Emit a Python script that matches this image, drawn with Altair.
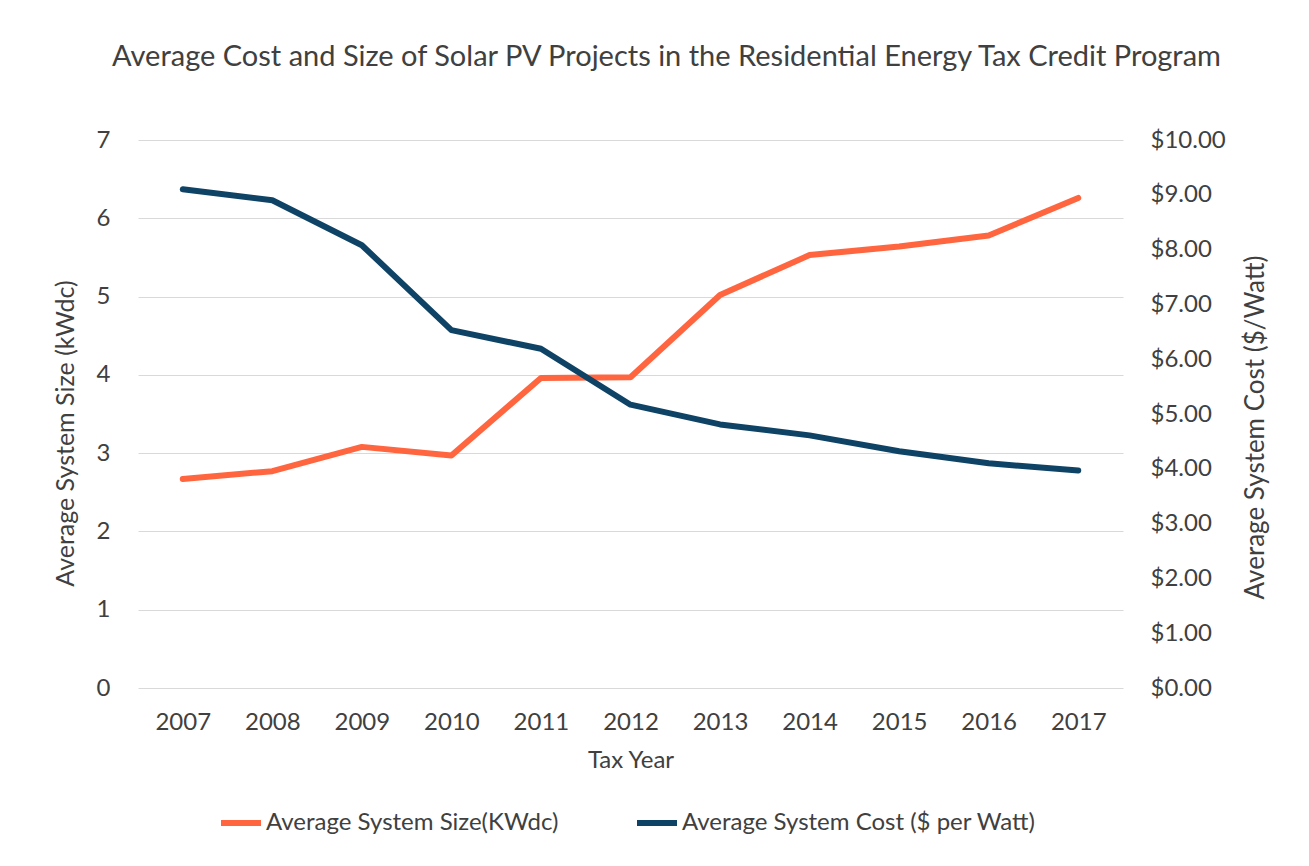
import altair as alt
import pandas as pd

years = ["2007", "2008", "2009", "2010", "2011", "2012", "2013", "2014", "2015", "2016", "2017"]
size_kwdc = [2.67, 2.77, 3.08, 2.97, 3.96, 3.97, 5.02, 5.53, 5.64, 5.78, 6.26]
cost_per_watt = [9.10, 8.90, 8.08, 6.53, 6.19, 5.17, 4.81, 4.61, 4.32, 4.10, 3.97]

size_name = "Average System Size(KWdc)"
cost_name = "Average System Cost ($ per Watt)"

df_size = pd.DataFrame({"year": years, "value": size_kwdc, "series": size_name})
df_cost = pd.DataFrame({"year": years, "value": cost_per_watt, "series": cost_name})

FONT = "Lato"
TXT = "#404040"

color = alt.Color(
    "series:N",
    scale=alt.Scale(domain=[size_name, cost_name], range=["#FF6640", "#0E4366"]),
    legend=alt.Legend(
        title=None,
        orient="none",
        legendX=80,
        legendY=660,
        direction="horizontal",
        symbolType="stroke",
        symbolSize=1600,
        symbolStrokeWidth=6,
        labelFontSize=24,
        labelFont=FONT,
        labelColor=TXT,
        labelOffset=2,
        labelLimit=0,
        columnPadding=66,
    ),
)

x = alt.X(
    "year:O",
    sort=years,
    scale=alt.Scale(type="point", padding=0.5),
    axis=alt.Axis(
        title="Tax Year",
        labelAngle=0,
        labelPadding=22,
        ticks=False,
        domain=False,
        grid=False,
        labelFontSize=24,
        titleFontSize=24,
        titleFontWeight="normal",
        titleY=72,
        titleBaseline="middle",
    ),
)

size_line = alt.Chart(df_size).mark_line(strokeWidth=6, strokeCap="round", strokeJoin="round").encode(
    x=x,
    y=alt.Y(
        "value:Q",
        scale=alt.Scale(domain=[0, 7]),
        axis=alt.Axis(
            title="Average System Size (kWdc)",
            orient="left",
            values=[0, 1, 2, 3, 4, 5, 6, 7],
            ticks=False,
            domain=False,
            grid=True,
            gridColor="#D9D9D9",
            gridWidth=1,
            labelPadding=28,
            labelFontSize=24,
            titleFontSize=25,
            titleFontWeight="normal",
            titleX=-73,
            titleY=293,
            titleAngle=270,
            titleAlign="center",
            titleBaseline="middle",
        ),
    ),
    color=color,
)

cost_line = alt.Chart(df_cost).mark_line(strokeWidth=6, strokeCap="round", strokeJoin="round").encode(
    x=x,
    y=alt.Y(
        "value:Q",
        scale=alt.Scale(domain=[0, 10]),
        axis=alt.Axis(
            title="Average System Cost ($/Watt)",
            orient="right",
            values=[0, 1, 2, 3, 4, 5, 6, 7, 8, 9, 10],
            format="$.2f",
            ticks=False,
            domain=False,
            grid=False,
            labelPadding=27,
            labelFontSize=24,
            titleFontSize=26,
            titleFontWeight="normal",
            titleX=132,
            titleY=287,
            titleAngle=270,
            titleAlign="center",
            titleBaseline="middle",
        ),
    ),
    color=color,
)

chart = (
    alt.layer(size_line, cost_line)
    .resolve_scale(y="independent")
    .properties(
        width=985,
        height=548,
        autosize=alt.AutoSizeParams(type="none"),
        padding={"left": 130, "top": 132, "right": 170, "bottom": 160},
        title=alt.TitleParams(
            text="Average Cost and Size of Solar PV Projects in the Residential Energy Tax Credit Program",
            fontSize=29,
            font=FONT,
            fontWeight="normal",
            color=TXT,
            anchor="middle",
            offset=56,
            dx=36,
        ),
    )
    .configure(background="white", font=FONT)
    .configure_view(stroke=None)
    .configure_axis(labelColor=TXT, titleColor=TXT, labelFont=FONT, titleFont=FONT)
)

chart.save("out.html", embed_options={"renderer": "svg", "actions": False})
